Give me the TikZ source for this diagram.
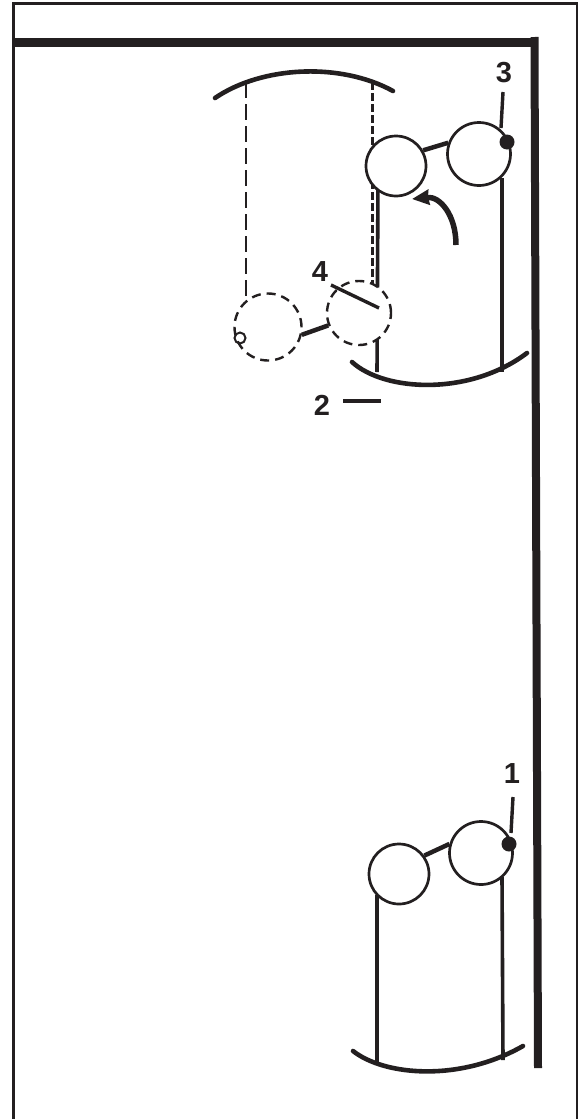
\documentclass[tikz,border=0pt]{standalone}
\usepackage{fontspec}
\setmainfont{Liberation Sans}
\usepackage{xcolor}
\usetikzlibrary{arrows.meta}
\definecolor{inkblack}{RGB}{35,31,32}

\begin{document}
\begin{tikzpicture}[x=1pt, y=-1pt, color=inkblack, font=\fontsize{29}{29}\selectfont\bfseries,
  wheel/.style={draw, circle, fill=white, line width=2.7pt, inner sep=0pt},
  ghost/.style={wheel, line width=2.4pt, dash pattern=on 9pt off 6pt},
  rod/.style={line width=4.5pt},
  post/.style={line width=3.6pt},
  ghostpost/.style={line width=2.2pt, dash pattern=on 16pt off 6pt},
  ghostpostfine/.style={line width=2.2pt, dash pattern=on 8pt off 3pt},
  swing/.style={line width=4.6pt, line cap=round},
  wall/.style={line width=8pt},
  pin/.style={circle, fill=inkblack, minimum size=15pt, inner sep=0pt},
  lead/.style={line width=3.4pt},
  num/.style={inner sep=0pt}]
\useasboundingbox (0,0) rectangle (578,1119);
% frame and corner of the room
\coordinate (frameA) at (13.5,1119);
\coordinate (frameB) at (13.5,3.2);
\coordinate (frameC) at (577,3.2);
\coordinate (frameD) at (577,1119);
\draw[line width=2.6pt] (frameA) -- (frameB) -- (frameC) -- (frameD);
\coordinate (barL) at (13,42.5);
\coordinate (barR) at (534,42.5);
\coordinate (wallT) at (534.5,37);
\coordinate (wallB) at (538,1068);
\draw[line width=9pt] (barL) -- (barR);
\draw[wall] (wallT) -- (wallB);
% dashed position
\coordinate (arcGa) at (215,98);
\coordinate (arcGb) at (393,91);
\coordinate (ghostLt) at (246,82);
\coordinate (ghostLb) at (246,307);
\coordinate (ghostRt) at (372.5,82);
\coordinate (ghostRb) at (372.5,285);
\draw[swing] (arcGa) .. controls (262,66) and (340,62) .. (arcGb);
\draw[ghostpost] (ghostLt) -- (ghostLb);
\draw[ghostpostfine] (ghostRt) -- (ghostRb);
% upper position
\coordinate (upLt) at (378,180);
\coordinate (upLb) at (377,372);
\coordinate (upRt) at (502,178);
\coordinate (upRb) at (502,372);
\coordinate (arcUa) at (352,362);
\coordinate (arcUb) at (527,353);
\draw[post] (upLt) -- (upLb);
\draw[post] (upRt) -- (upRb);
\draw[swing] (arcUa) .. controls (385,392) and (470,396) .. (arcUb);
\node[wheel, minimum size=60pt] (upL) at (396,166) {};
\node[wheel, minimum size=63pt] (upR) at (479,154) {};
\draw[rod] (upL.30) -- (upR.160);
\node[pin] (upPin) at (507,142) {};
\node[ghost, minimum size=67pt] (ghL) at (268,327) {};
\node[ghost, minimum size=64pt] (ghR) at (359,313) {};
\draw[rod] (ghL.-13) -- (ghR.202);
\node[draw, circle, line width=2pt, minimum size=11pt, inner sep=0pt] (ghPin) at (240,338) {};
% lower position
\coordinate (loLt) at (377,895);
\coordinate (loLb) at (377,1062);
\coordinate (loRt) at (502,877);
\coordinate (loRb) at (503,1060);
\coordinate (arcLa) at (353,1051);
\coordinate (arcLb) at (523,1046);
\draw[post] (loLt) -- (loLb);
\draw[post] (loRt) -- (loRb);
\draw[swing] (arcLa) .. controls (385,1076) and (460,1082) .. (arcLb);
\node[wheel, minimum size=60pt] (loL) at (399,874) {};
\node[wheel, minimum size=63pt] (loR) at (481,853) {};
\draw[rod] (loL.36) -- (loR.164);
\node[pin] (loPin) at (509,844) {};
% swing arrow
\coordinate (swA) at (456,245);
\coordinate (swB) at (412,199);
\draw[line width=5.5pt, -{Stealth[length=17pt,width=15pt,inset=1pt]}] (swA) .. controls (456,215) and (440,196) .. (swB);
% numbers and leaders
\node[num] (n3) at (504,73) {3};
\node[num] (n4) at (320,272) {4};
\node[num] (n2) at (322,405) {2};
\node[num] (n1) at (512,774) {1};
\coordinate (ld3) at (503,92);
\coordinate (ld3e) at (501,128);
\coordinate (ld4) at (331,285);
\coordinate (ld4e) at (379,308);
\coordinate (ld2) at (343,401);
\coordinate (ld2e) at (381,401);
\coordinate (ld1) at (513,797);
\coordinate (ld1e) at (511,833);
\draw[lead] (ld3) -- (ld3e);
\draw[lead] (ld4) -- (ld4e);
\draw[lead] (ld2) -- (ld2e);
\draw[lead] (ld1) -- (ld1e);
\end{tikzpicture}
\end{document}
